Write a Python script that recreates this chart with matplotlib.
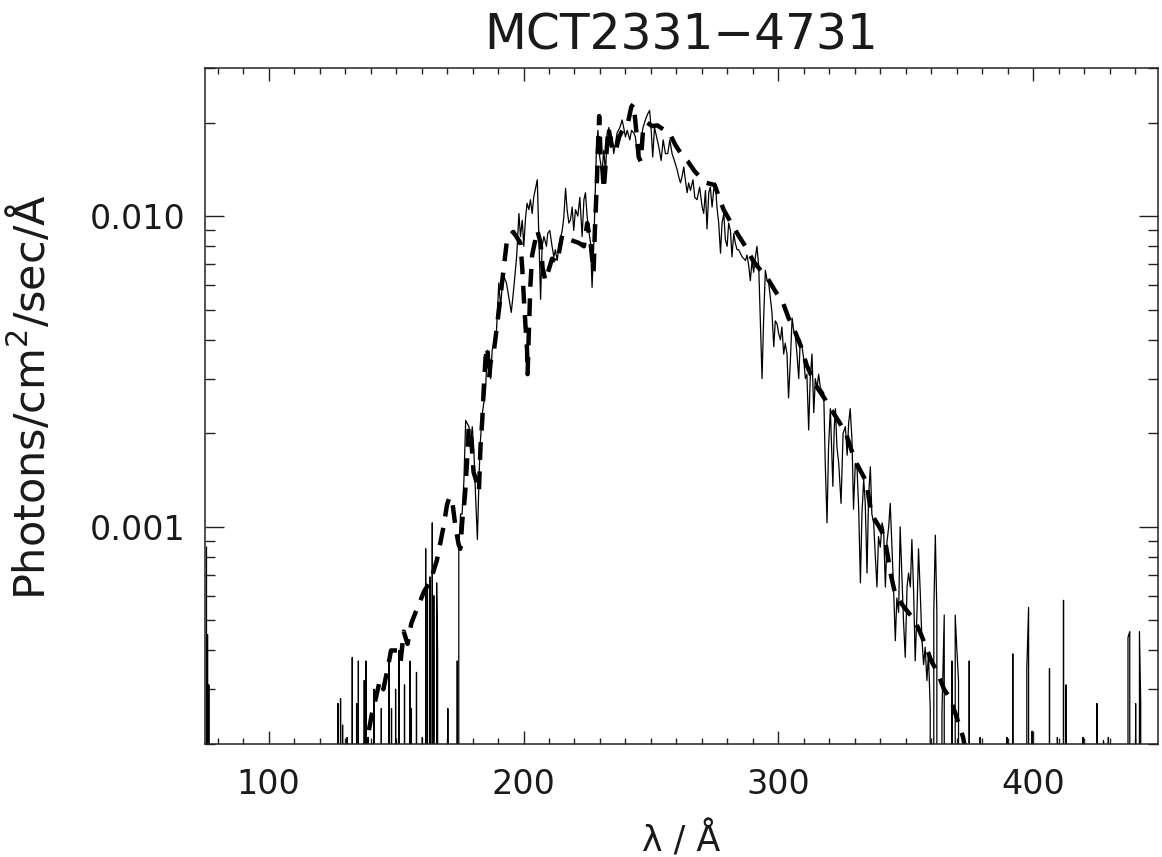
import matplotlib
matplotlib.use('Agg')
import matplotlib.pyplot as plt
from matplotlib.ticker import MultipleLocator, FixedLocator, LogLocator, FuncFormatter, NullFormatter

# observed spectrum (wavelength in A, flux); 0 = no signal (drops below the axis)
obs = [
    (75.6, 8.6e-4), (75.8, 0), (76.0, 4.5e-4), (76.2, 0), (76.5, 3.1e-4), (76.8, 0),
    (126.8, 0), (127.2, 2.7e-4), (127.7, 0), (128.2, 2.8e-4), (128.6, 0), (129.0, 2.3e-4), (129.4, 0),
    (130.5, 0), (130.8, 2.1e-4), (131.2, 0),
    (132.4, 0), (132.8, 3.8e-4), (133.2, 0), (134.2, 0), (134.5, 2.7e-4), (134.8, 0),
    (135.2, 3.7e-4), (135.6, 0),
    (137.2, 0), (137.5, 3.2e-4), (137.8, 0), (138.2, 3.7e-4), (138.6, 0), (139.0, 2.1e-4), (139.3, 0),
    (141.0, 0), (141.3, 3.0e-4), (141.7, 0), (143.9, 0), (144.2, 2.6e-4), (144.6, 0),
    (146.9, 0), (147.2, 3.7e-4), (147.6, 0), (148.2, 2.6e-4), (148.5, 0),
    (149.5, 0), (149.8, 3.0e-4), (150.2, 0),
    (150.8, 0), (151.1, 4.0e-4), (151.5, 0), (153.0, 0), (153.3, 3.1e-4), (153.7, 0),
    (155.1, 0), (155.4, 3.7e-4), (155.7, 0), (156.0, 2.6e-4), (156.3, 0),
    (157.7, 0), (158.0, 3.4e-4), (158.4, 0),
    (160.0, 0), (160.3, 2.1e-4), (160.6, 0), (161.3, 0), (161.6, 8.5e-4), (162.0, 0),
    (162.3, 6.4e-4), (162.7, 0),
    (163.0, 0), (163.3, 6.9e-4), (163.7, 0), (164.2, 1.03e-3), (164.6, 0), (164.8, 6.0e-4), (165.2, 0),
    (165.9, 6.6e-4), (166.3, 4.0e-4), (166.6, 0),
    (170.0, 0), (170.3, 2.6e-4), (170.6, 0), (173.7, 0), (174.0, 3.7e-4), (174.3, 0),
    (174.6, 8.5e-4), (175.3, 1.1e-3), (175.9, 1.1e-3), (176.6, 1.4e-3), (177.3, 2.2e-3),
    (178.6, 2.1e-3), (179.2, 1.86e-3), (179.9, 2.1e-3), (180.5, 1.77e-3), (181.2, 1.25e-3),
    (181.9, 9.1e-4), (182.6, 1.5e-3), (183.1, 1.9e-3), (183.8, 2.3e-3), (185.1, 2.76e-3),
    (185.8, 3.7e-3), (187.1, 3.0e-3), (187.7, 3.7e-3), (188.4, 3.9e-3), (189.4, 4.3e-3),
    (190.3, 6.1e-3), (191.0, 5.1e-3), (191.6, 5.9e-3), (192.3, 6.4e-3), (193.3, 6.1e-3),
    (194.2, 5.5e-3), (195.2, 4.9e-3), (196.2, 5.9e-3), (197.3, 7.4e-3), (198.2, 1.02e-2),
    (198.8, 8.6e-3), (199.5, 9.7e-3), (200.1, 8.0e-3), (200.8, 9.9e-3), (201.4, 1.10e-2),
    (202.1, 1.05e-2), (202.7, 1.13e-2), (203.4, 1.02e-2), (204.0, 1.15e-2), (205.4, 1.31e-2),
    (206.0, 8.6e-3), (206.7, 5.4e-3), (207.3, 8.0e-3), (208.0, 8.6e-3), (209.0, 8.0e-3),
    (209.5, 8.8e-3), (210.3, 9.0e-3), (211.2, 8.0e-3), (211.9, 7.4e-3), (212.5, 7.8e-3),
    (213.2, 7.2e-3), (214.1, 8.2e-3), (215.2, 9.0e-3), (215.8, 9.9e-3), (216.5, 1.23e-2),
    (217.1, 1.05e-2), (217.8, 9.5e-3), (218.4, 9.7e-3), (219.1, 1.07e-2), (219.7, 9.0e-3),
    (220.4, 1.05e-2), (221.3, 1.0e-2), (222.1, 1.15e-2), (223.0, 8.6e-3), (223.7, 1.13e-2),
    (224.3, 1.19e-2), (225.0, 9.9e-3), (225.6, 9.0e-3), (226.3, 8.2e-3), (226.9, 5.9e-3),
    (227.6, 8.2e-3), (228.2, 1.24e-2), (228.6, 1.63e-2), (229.2, 1.89e-2), (229.9, 1.55e-2),
    (230.8, 1.38e-2), (231.5, 1.63e-2), (232.2, 1.38e-2), (232.8, 1.85e-2), (233.5, 1.93e-2),
    (234.1, 1.67e-2), (234.8, 1.80e-2), (235.4, 1.59e-2), (236.1, 1.72e-2), (236.7, 1.85e-2),
    (237.8, 1.93e-2), (238.7, 2.04e-2), (239.3, 1.93e-2), (240.0, 1.80e-2), (240.7, 1.89e-2),
    (241.7, 1.76e-2), (242.4, 1.89e-2), (243.3, 1.85e-2), (243.9, 1.80e-2), (244.6, 1.59e-2),
    (245.2, 1.51e-2), (246.1, 1.76e-2), (246.9, 1.93e-2), (247.8, 2.04e-2), (248.8, 2.14e-2),
    (249.5, 2.19e-2), (250.1, 1.89e-2), (250.7, 1.55e-2), (251.4, 1.93e-2), (252.2, 1.80e-2),
    (253.1, 1.67e-2), (254.0, 1.51e-2), (254.8, 1.76e-2), (255.7, 1.59e-2), (256.6, 1.59e-2),
    (257.4, 1.76e-2), (258.3, 1.59e-2), (259.2, 1.51e-2), (260.3, 1.41e-2), (260.9, 1.34e-2),
    (261.6, 1.28e-2), (262.2, 1.34e-2), (262.9, 1.44e-2), (263.5, 1.31e-2), (264.2, 1.19e-2),
    (264.8, 1.28e-2), (265.5, 1.21e-2), (266.5, 1.31e-2), (267.2, 1.15e-2), (268.1, 1.13e-2),
    (269.1, 1.24e-2), (270.1, 1.07e-2), (270.7, 1.02e-2), (271.4, 1.21e-2), (272.0, 9.1e-3),
    (272.7, 1.19e-2), (273.3, 1.24e-2), (274.0, 1.07e-2), (274.6, 1.21e-2), (275.3, 1.28e-2),
    (275.9, 1.07e-2), (276.6, 9.5e-3), (277.3, 7.6e-3), (277.9, 9.5e-3), (278.6, 1.02e-2),
    (279.2, 8.4e-3), (279.9, 8.0e-3), (280.5, 9.5e-3), (281.2, 9.0e-3), (281.8, 7.4e-3),
    (282.5, 8.8e-3), (283.1, 8.2e-3), (283.8, 7.8e-3), (284.4, 7.8e-3), (285.1, 7.6e-3),
    (285.8, 7.4e-3), (287.1, 7.2e-3), (287.7, 7.5e-3), (288.4, 6.9e-3), (289.0, 6.2e-3),
    (289.7, 7.2e-3), (290.3, 6.6e-3), (291.0, 7.4e-3), (291.6, 8.0e-3), (292.3, 6.9e-3),
    (292.9, 4.7e-3), (293.6, 3.0e-3), (294.2, 4.6e-3), (294.9, 6.7e-3), (295.6, 6.2e-3),
    (296.2, 6.1e-3), (296.9, 5.4e-3), (297.5, 4.9e-3), (298.2, 3.8e-3), (298.8, 4.6e-3),
    (299.5, 4.5e-3), (300.1, 4.2e-3), (300.8, 4.0e-3), (301.4, 4.4e-3), (302.1, 3.6e-3),
    (302.7, 3.9e-3), (303.4, 3.6e-3), (304.0, 2.6e-3), (304.7, 3.4e-3), (305.4, 4.7e-3),
    (306.0, 4.3e-3), (306.7, 4.1e-3), (307.3, 3.6e-3), (308.0, 3.0e-3), (308.6, 4.0e-3),
    (309.3, 3.8e-3), (309.9, 3.5e-3), (310.6, 3.0e-3), (311.2, 3.1e-3), (311.9, 2.05e-3),
    (312.5, 3.0e-3), (313.2, 3.6e-3), (313.9, 2.33e-3), (314.5, 3.0e-3), (315.2, 2.8e-3),
    (315.8, 3.1e-3), (316.5, 2.8e-3), (317.8, 2.7e-3), (318.4, 1.6e-3), (319.1, 1.03e-3),
    (319.7, 1.8e-3), (320.4, 2.4e-3), (321.1, 1.6e-3), (321.4, 1.35e-3), (321.9, 2.05e-3),
    (322.4, 2.4e-3), (323.0, 1.8e-3), (323.7, 1.6e-3), (324.6, 1.19e-3), (325.4, 2.0e-3),
    (326.3, 2.1e-3), (327.0, 1.7e-3), (327.6, 2.16e-3), (328.2, 2.4e-3), (328.9, 1.9e-3),
    (329.5, 1.14e-3), (330.2, 1.6e-3), (330.9, 1.53e-3), (331.5, 1.16e-3), (332.2, 6.6e-4),
    (332.8, 1.1e-3), (333.5, 1.42e-3), (334.1, 1.19e-3), (334.8, 7.1e-4), (335.4, 1.25e-3),
    (336.1, 1.56e-3), (336.7, 1.1e-3), (337.4, 1.03e-3), (338.0, 8.2e-4), (338.7, 6.4e-4),
    (339.3, 9.3e-4), (340.0, 8.6e-4), (340.7, 1.03e-3), (341.3, 9.8e-4), (342.0, 6.4e-4),
    (342.6, 8.9e-4), (343.3, 1.0e-3), (343.9, 1.19e-3), (344.6, 8.5e-4), (345.2, 6.4e-4),
    (345.9, 4.3e-4), (346.5, 5.9e-4), (347.2, 5.3e-4), (347.8, 1.0e-3), (348.5, 6.8e-4),
    (349.1, 5.0e-4), (349.8, 3.8e-4), (350.5, 6.4e-4), (351.1, 7.1e-4), (351.8, 6.4e-4),
    (352.4, 9.1e-4), (353.1, 6.1e-4), (353.7, 3.7e-4), (354.4, 5.3e-4), (355.0, 8.5e-4),
    (355.7, 6.1e-4), (356.3, 4.4e-4), (357.0, 3.6e-4), (357.6, 4.1e-4), (358.3, 3.2e-4),
    (358.9, 3.9e-4), (359.6, 2.6e-4), (360.3, 0), (361.0, 5.3e-4), (361.6, 9.4e-4),
    (362.2, 5.3e-4), (362.9, 0), (363.5, 0), (364.2, 2.5e-4), (365.1, 5.2e-4), (365.8, 0),
    (367.6, 0), (368.1, 3.7e-4), (368.7, 0), (369.4, 5.2e-4), (370.0, 4.1e-4), (370.7, 3.2e-4),
    (371.3, 0), (374.4, 0), (374.9, 3.7e-4), (375.5, 0),
    (378.9, 0), (379.2, 2.1e-4), (379.5, 0), (389.4, 0), (389.7, 2.1e-4), (390.0, 0),
    (391.7, 0), (392.0, 3.9e-4), (392.4, 0), (397.5, 3.5e-4), (398.2, 5.5e-4), (398.7, 0),
    (399.3, 0), (399.6, 2.2e-4), (399.9, 0), (406.0, 0), (406.4, 3.5e-4), (406.8, 0),
    (409.2, 0), (409.5, 2.1e-4), (409.8, 0), (411.5, 0), (411.9, 5.8e-4), (412.5, 0),
    (412.9, 3.1e-4), (413.5, 0), (419.2, 0), (419.5, 2.1e-4), (419.8, 0),
    (424.7, 0), (425.0, 2.7e-4), (425.4, 0), (427.3, 0), (427.6, 2.05e-4), (427.9, 0),
    (429.2, 0), (429.5, 2.1e-4), (429.8, 0), (436.9, 0), (437.2, 4.4e-4), (437.9, 4.6e-4),
    (438.3, 0), (439.9, 0), (440.2, 2.7e-4), (440.6, 0), (441.3, 0), (441.7, 4.6e-4),
    (442.2, 2.7e-4), (442.6, 0), (449.0, 0),
]

# model spectrum (dashed)
model = [
    (136.0, 1.8e-4), (138.8, 2.1e-4), (140.5, 2.5e-4), (142.0, 2.8e-4), (143.6, 3.2e-4),
    (145.0, 3.0e-4), (146.7, 3.5e-4), (148.0, 4.0e-4), (150.5, 4.0e-4), (151.8, 3.7e-4),
    (153.0, 4.6e-4), (154.5, 4.2e-4), (156.0, 4.9e-4), (158.4, 5.5e-4), (161.0, 6.2e-4),
    (163.5, 6.7e-4), (166.0, 7.8e-4), (167.5, 9.0e-4), (168.6, 1.0e-3), (170.0, 1.18e-3),
    (171.0, 1.25e-3), (172.2, 1.18e-3), (173.3, 1.0e-3), (174.5, 8.8e-4), (175.2, 8.5e-4),
    (176.0, 1.05e-3), (177.0, 1.25e-3), (177.8, 1.6e-3), (178.5, 2.1e-3), (179.5, 1.9e-3),
    (180.4, 1.5e-3), (181.5, 1.4e-3), (182.5, 1.3e-3), (183.1, 1.8e-3), (183.8, 2.2e-3),
    (184.4, 2.8e-3), (185.1, 3.5e-3), (185.8, 3.8e-3), (186.5, 3.0e-3), (187.1, 3.4e-3),
    (188.4, 3.7e-3), (189.7, 4.5e-3), (192.3, 6.9e-3), (193.6, 8.5e-3), (196.0, 8.9e-3),
    (198.8, 8.2e-3), (199.5, 6.8e-3), (200.1, 5.5e-3), (200.8, 4.4e-3), (201.4, 3.7e-3),
    (201.6, 3.1e-3), (202.0, 4.0e-3), (202.7, 6.0e-3), (203.4, 7.5e-3), (205.4, 9.0e-3),
    (206.7, 8.2e-3), (207.5, 6.8e-3), (208.6, 6.2e-3), (211.2, 7.3e-3), (213.2, 7.1e-3),
    (215.2, 8.7e-3), (216.5, 8.5e-3), (221.7, 8.2e-3), (223.7, 8.0e-3), (225.0, 9.5e-3),
    (226.3, 8.2e-3), (227.5, 6.6e-3), (228.0, 9.0e-3), (228.8, 1.3e-2), (229.3, 1.75e-2),
    (229.7, 2.1e-2), (230.2, 1.6e-2), (231.0, 1.4e-2), (231.5, 1.22e-2), (232.3, 1.5e-2),
    (233.3, 1.93e-2), (234.5, 1.7e-2), (236.0, 1.6e-2), (237.5, 1.8e-2), (239.0, 1.9e-2),
    (241.0, 2.0e-2), (242.3, 2.25e-2), (243.2, 2.3e-2), (244.2, 1.9e-2), (245.2, 1.55e-2),
    (246.0, 1.5e-2), (247.0, 1.93e-2), (248.5, 2.0e-2), (250.5, 1.95e-2), (252.5, 1.96e-2),
    (255.0, 1.9e-2), (257.3, 1.85e-2), (259.5, 1.7e-2), (262.0, 1.58e-2), (264.5, 1.5e-2),
    (267.0, 1.4e-2), (269.5, 1.33e-2), (271.8, 1.28e-2), (275.0, 1.26e-2), (278.5, 1.05e-2),
    (281.5, 9.5e-3), (284.6, 8.6e-3), (287.5, 7.9e-3), (290.0, 7.2e-3), (293.0, 6.7e-3),
    (295.8, 6.3e-3), (299.0, 5.7e-3), (301.7, 5.3e-3), (304.0, 4.7e-3), (306.3, 4.3e-3),
    (308.9, 3.8e-3), (311.2, 3.3e-3), (313.5, 3.0e-3), (315.3, 2.8e-3), (318.0, 2.6e-3),
    (320.5, 2.4e-3), (323.5, 2.2e-3), (326.5, 2.0e-3), (330.0, 1.64e-3), (332.5, 1.5e-3),
    (334.5, 1.4e-3), (336.5, 1.1e-3), (338.0, 1.05e-3), (339.6, 1.0e-3), (341.0, 9.5e-4),
    (342.0, 8.9e-4), (343.0, 8.0e-4), (344.0, 7.1e-4), (346.0, 6.0e-4), (348.0, 5.7e-4),
    (351.0, 5.3e-4), (353.5, 5.0e-4), (356.0, 4.5e-4), (358.0, 4.1e-4), (360.0, 3.7e-4),
    (362.5, 3.4e-4), (365.0, 3.0e-4), (367.5, 2.8e-4), (369.5, 2.5e-4), (371.0, 2.3e-4),
    (372.5, 2.1e-4), (374.0, 1.8e-4),
]

wl_obs, flux_obs = zip(*obs)
wl_mod, flux_mod = zip(*model)

plt.rcParams['font.family'] = ['DejaVu Sans']
text_col = '#1a1a1a'

fig = plt.figure(figsize=(11.62, 8.57), dpi=100)
ax = fig.add_axes([0.1764, 0.1319, 0.8202, 0.7888])

ax.set_yscale('log', nonpositive='clip')
ax.plot(wl_obs, flux_obs, color='black', lw=0.9)
ax.plot(wl_mod, flux_mod, color='black', lw=3.2, linestyle=(0, (4.0, 2.6)))

ax.set_xlim(75, 449)
ax.set_ylim(2e-4, 3e-2)

ax.xaxis.set_major_locator(FixedLocator([100, 200, 300, 400]))
ax.xaxis.set_minor_locator(MultipleLocator(10))
ax.yaxis.set_major_locator(FixedLocator([0.001, 0.01]))
ax.yaxis.set_minor_locator(LogLocator(base=10, subs=range(2, 10)))
ax.yaxis.set_major_formatter(FuncFormatter(lambda v, p: f'{v:.3f}'))
ax.yaxis.set_minor_formatter(NullFormatter())

ax.tick_params(which='both', direction='in', top=True, right=True, width=1,
               colors='#222222', labelsize=24, labelcolor=text_col)
ax.tick_params(axis='x', which='major', length=9.5, pad=17)
ax.tick_params(axis='x', which='minor', length=4.5)
ax.tick_params(axis='y', which='major', length=14, pad=14)
ax.tick_params(axis='y', which='minor', length=7)
for s in ax.spines.values():
    s.set_linewidth(1.1)
    s.set_color('#222222')

ax.set_title('MCT2331\u22124731', fontsize=35, pad=13, color=text_col)
ax.set_xlabel('\u03bb / \u00c5', fontsize=25, color=text_col, va='center')
ax.set_ylabel('Photons/cm$^2$/sec/\u00c5', fontsize=31, color=text_col)
ax.xaxis.set_label_coords(0.5, -0.142)
ax.yaxis.set_label_coords(-0.158, 0.513)

fig.savefig('out.png', dpi=100)
